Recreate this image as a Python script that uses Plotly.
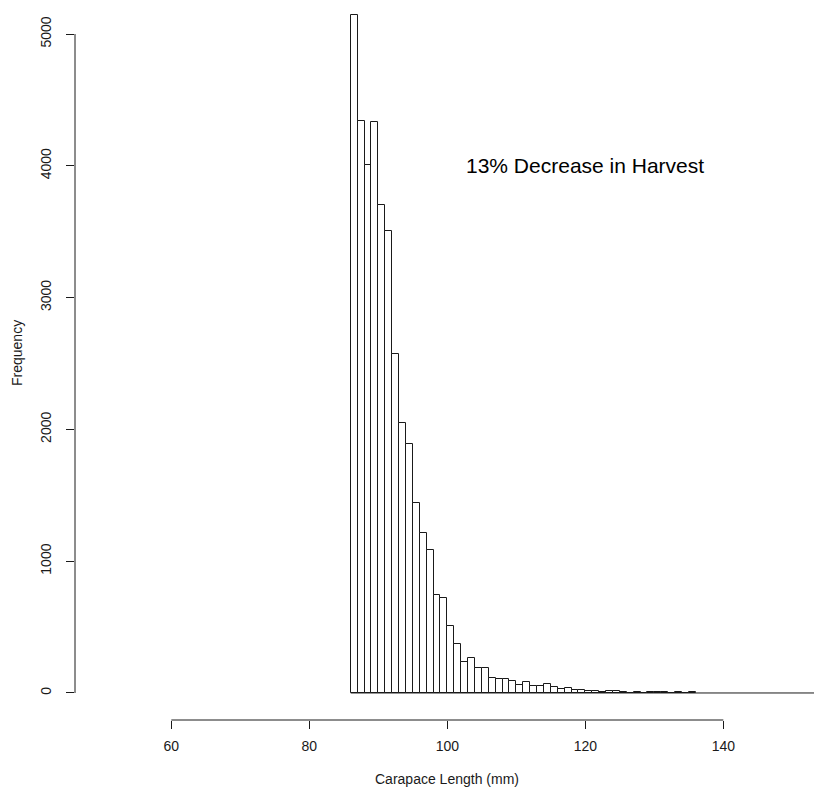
import plotly.graph_objects as go

# Histogram data: 1 mm bins starting at 86 mm
bin_start = 86
bin_width = 1
counts = [5146, 4340, 4006, 4332, 3703, 3505, 2570, 2046, 1887, 1442,
          1211, 1083, 744, 719, 505, 372, 238, 263, 187, 187,
          116, 104, 104, 89, 61, 81, 56, 51, 66, 48,
          30, 36, 25, 22, 13, 13, 8, 15, 15, 5,
          0, 5, 0, 5, 5, 5, 0, 5, 0, 5]
baseline_end = 160

x_ticks = [60, 80, 100, 120, 140]
y_ticks = [0, 1000, 2000, 3000, 4000, 5000]

annotation_text = "13% Decrease in Harvest"
annotation_pos = (120, 4000)
x_title = "Carapace Length (mm)"
y_title = "Frequency"

centers = [bin_start + bin_width * (i + 0.5) for i in range(len(counts))]

FONT = "Liberation Sans, Arial, sans-serif"
INK = "#1a1a1a"

fig = go.Figure()
fig.add_trace(go.Scatter(
    x=[bin_start, baseline_end], y=[0, 0], mode="lines",
    line=dict(color=INK, width=1), hoverinfo="skip", showlegend=False))
fig.add_trace(go.Bar(
    x=centers, y=counts, width=bin_width,
    marker=dict(color="white", line=dict(color=INK, width=1)),
    showlegend=False))

fig.add_annotation(x=annotation_pos[0], y=annotation_pos[1], xref="x", yref="y",
                   text=annotation_text, showarrow=False,
                   font=dict(family=FONT, size=21, color="black"),
                   xanchor="center", yanchor="middle")
fig.add_annotation(x=(447 - 75) / 739, y=(720 - 779) / 720, xref="paper", yref="paper",
                   text=x_title, showarrow=False,
                   font=dict(family=FONT, size=14, color=INK),
                   xanchor="center", yanchor="middle")
fig.add_annotation(x=(17 - 75) / 739, y=(720 - 353) / 720, xref="paper", yref="paper",
                   text=y_title, showarrow=False, textangle=-90,
                   font=dict(family=FONT, size=14, color=INK),
                   xanchor="center", yanchor="middle")

# R-style detached axis lines spanning only first..last tick
fig.add_shape(type="line", xref="x", yref="paper", x0=x_ticks[0], x1=x_ticks[-1],
              y0=0, y1=0, line=dict(color=INK, width=1))
fig.add_shape(type="line", xref="paper", yref="y", x0=0, x1=0,
              y0=y_ticks[0], y1=y_ticks[-1], line=dict(color=INK, width=1))

fig.update_xaxes(range=[46.04, 153.14], showgrid=False, zeroline=False, showline=False,
                 ticks="outside", ticklen=8, tickwidth=1, tickcolor=INK,
                 tickvals=x_ticks, ticktext=[str(v) for v in x_ticks],
                 ticklabelstandoff=5,
                 tickfont=dict(family=FONT, size=14, color=INK), automargin=False)
fig.update_yaxes(range=[-205, 5258], showgrid=False, zeroline=False, showline=False,
                 ticks="outside", ticklen=8, tickwidth=1, tickcolor=INK,
                 tickvals=y_ticks, ticktext=[str(v) for v in y_ticks], tickangle=-90,
                 ticklabelstandoff=9,
                 tickfont=dict(family=FONT, size=14, color=INK), automargin=False)

fig.update_layout(width=814, height=791, template="none",
                  margin=dict(l=75, r=0, t=0, b=71, pad=0),
                  plot_bgcolor="white", paper_bgcolor="white",
                  bargap=0, font=dict(family=FONT))

fig.write_html("out.html")
